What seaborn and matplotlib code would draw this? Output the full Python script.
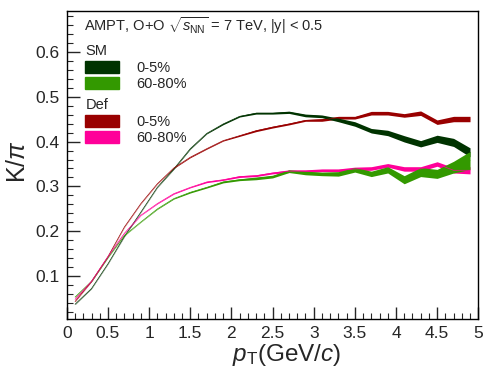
import numpy as np
import pandas as pd
import seaborn as sns
import matplotlib.pyplot as plt
from matplotlib.patches import Patch
from matplotlib.ticker import MultipleLocator

pt = [0.1, 0.3, 0.5, 0.7, 0.9, 1.1, 1.3, 1.5, 1.7, 1.9, 2.1, 2.3, 2.5,
      2.7, 2.9, 3.1, 3.3, 3.5, 3.7, 3.9, 4.1, 4.3, 4.5, 4.7, 4.9]

# K/pi ratio, values
sm_central = [0.038, 0.073, 0.128, 0.189, 0.243, 0.298, 0.339, 0.384, 0.418, 0.439,
              0.456, 0.463, 0.463, 0.465, 0.458, 0.456, 0.448, 0.439, 0.424, 0.419,
              0.406, 0.395, 0.406, 0.398, 0.376]
sm_central_err = [0.0005, 0.0005, 0.0005, 0.0005, 0.0005, 0.0005, 0.0008, 0.001, 0.001, 0.0015,
                  0.0015, 0.002, 0.002, 0.0025, 0.003, 0.003, 0.004, 0.005, 0.005, 0.006,
                  0.007, 0.007, 0.008, 0.009, 0.010]
sm_periph = [0.054, 0.089, 0.142, 0.191, 0.221, 0.250, 0.273, 0.287, 0.298, 0.310,
             0.315, 0.318, 0.322, 0.334, 0.330, 0.328, 0.328, 0.337, 0.328, 0.337,
             0.315, 0.332, 0.328, 0.343, 0.358]
sm_periph_err = [0.0005, 0.0005, 0.0005, 0.0005, 0.0005, 0.0008, 0.001, 0.0015, 0.0015, 0.002,
                 0.002, 0.003, 0.003, 0.003, 0.004, 0.004, 0.005, 0.005, 0.006, 0.007,
                 0.009, 0.010, 0.010, 0.013, 0.020]
def_central = [0.044, 0.089, 0.144, 0.210, 0.262, 0.306, 0.341, 0.365, 0.384, 0.402,
               0.413, 0.424, 0.432, 0.439, 0.447, 0.448, 0.453, 0.453, 0.463, 0.463,
               0.458, 0.463, 0.443, 0.450, 0.450]
def_central_err = [0.0005, 0.0005, 0.0005, 0.0005, 0.0005, 0.0005, 0.0008, 0.001, 0.001, 0.001,
                   0.0015, 0.002, 0.002, 0.002, 0.002, 0.003, 0.003, 0.003, 0.004, 0.004,
                   0.004, 0.005, 0.005, 0.006, 0.006]
def_periph = [0.049, 0.089, 0.144, 0.196, 0.236, 0.262, 0.284, 0.298, 0.310, 0.315,
              0.322, 0.324, 0.330, 0.334, 0.334, 0.336, 0.336, 0.339, 0.340, 0.347,
              0.339, 0.339, 0.350, 0.336, 0.336]
def_periph_err = [0.0005, 0.0005, 0.0005, 0.0005, 0.0005, 0.0008, 0.001, 0.001, 0.0015, 0.0015,
                  0.002, 0.002, 0.002, 0.003, 0.003, 0.003, 0.003, 0.004, 0.004, 0.004,
                  0.005, 0.005, 0.005, 0.006, 0.008]

series = [
    ("SM 0-5%", sm_central, sm_central_err, "#003300"),
    ("SM 60-80%", sm_periph, sm_periph_err, "#339900"),
    ("Def 0-5%", def_central, def_central_err, "#990000"),
    ("Def 60-80%", def_periph, def_periph_err, "#ff0099"),
]

df = pd.concat([pd.DataFrame({"pt": pt, "ratio": v, "err": e, "set": name})
                for name, v, e, c in series])
palette = {name: c for name, v, e, c in series}

sns.set_style("ticks")
plt.rcParams['font.family'] = ['Liberation Sans', 'DejaVu Sans']
plt.rcParams['mathtext.fontset'] = 'custom'
plt.rcParams['mathtext.rm'] = 'Liberation Sans'
plt.rcParams['mathtext.it'] = 'Liberation Sans:italic'

fig = plt.figure(figsize=(4.88, 3.84), dpi=100)
ax = fig.add_axes([0.137, 0.169, 0.843, 0.802])

# draw order: Def first, SM on top
for name in ["Def 0-5%", "Def 60-80%", "SM 0-5%", "SM 60-80%"]:
    d = df[df["set"] == name]
    ax.fill_between(d["pt"], d["ratio"] - d["err"], d["ratio"] + d["err"],
                    color=palette[name], lw=0)
sns.lineplot(data=df, x="pt", y="ratio", hue="set", palette=palette,
             lw=0.5, legend=False, ax=ax, estimator=None)

ax.set_xlim(0, 5)
ax.set_ylim(0.005, 0.69)
ax.xaxis.set_minor_locator(MultipleLocator(0.1))
ax.yaxis.set_minor_locator(MultipleLocator(0.02))
ax.set_xticks(np.arange(0, 5.01, 0.5))
ax.set_xticklabels(["0", "0.5", "1", "1.5", "2", "2.5", "3", "3.5", "4", "4.5", "5"])
ax.set_yticks([0.1, 0.2, 0.3, 0.4, 0.5, 0.6])
ax.set_yticklabels(["0.1", "0.2", "0.3", "0.4", "0.5", "0.6"])
ax.tick_params(which="major", direction="in", length=9, width=1, labelsize=12.5,
               pad=5)
ax.tick_params(which="minor", direction="in", length=4.5, width=0.8)
for s in ax.spines.values():
    s.set_linewidth(1)
    s.set_color("black")

ax.set_xlabel(r"$p_{\rm T}$(GeV/$c$)", fontsize=17.5)
ax.set_ylabel(r"K/$\pi$", fontsize=18)
ax.yaxis.set_label_coords(-0.09, 0.51)
ax.xaxis.set_label_coords(0.535, -0.075)

ax.text(0.041, 0.952, r"AMPT, O+O $\sqrt{s_{\rm NN}}$ = 7 TeV, |y| < 0.5",
        transform=ax.transAxes, fontsize=10.5, va="center")

h_sm = [Patch(color=palette["SM 0-5%"]), Patch(color=palette["SM 60-80%"])]
h_def = [Patch(color=palette["Def 0-5%"]), Patch(color=palette["Def 60-80%"])]
leg_kw = dict(loc="upper left", frameon=False, fontsize=10.5, title_fontsize=10.5,
              alignment="left", handlelength=2.3, handleheight=0.9,
              handletextpad=1.2, labelspacing=0.15, borderpad=0.2)
leg1 = ax.legend(h_sm, ["0-5%", "60-80%"], title="SM",
                 bbox_to_anchor=(0.02, 0.925), **leg_kw)
ax.add_artist(leg1)
ax.legend(h_def, ["0-5%", "60-80%"], title="Def",
          bbox_to_anchor=(0.02, 0.75), **leg_kw)

fig.savefig("out.png", dpi=100)
